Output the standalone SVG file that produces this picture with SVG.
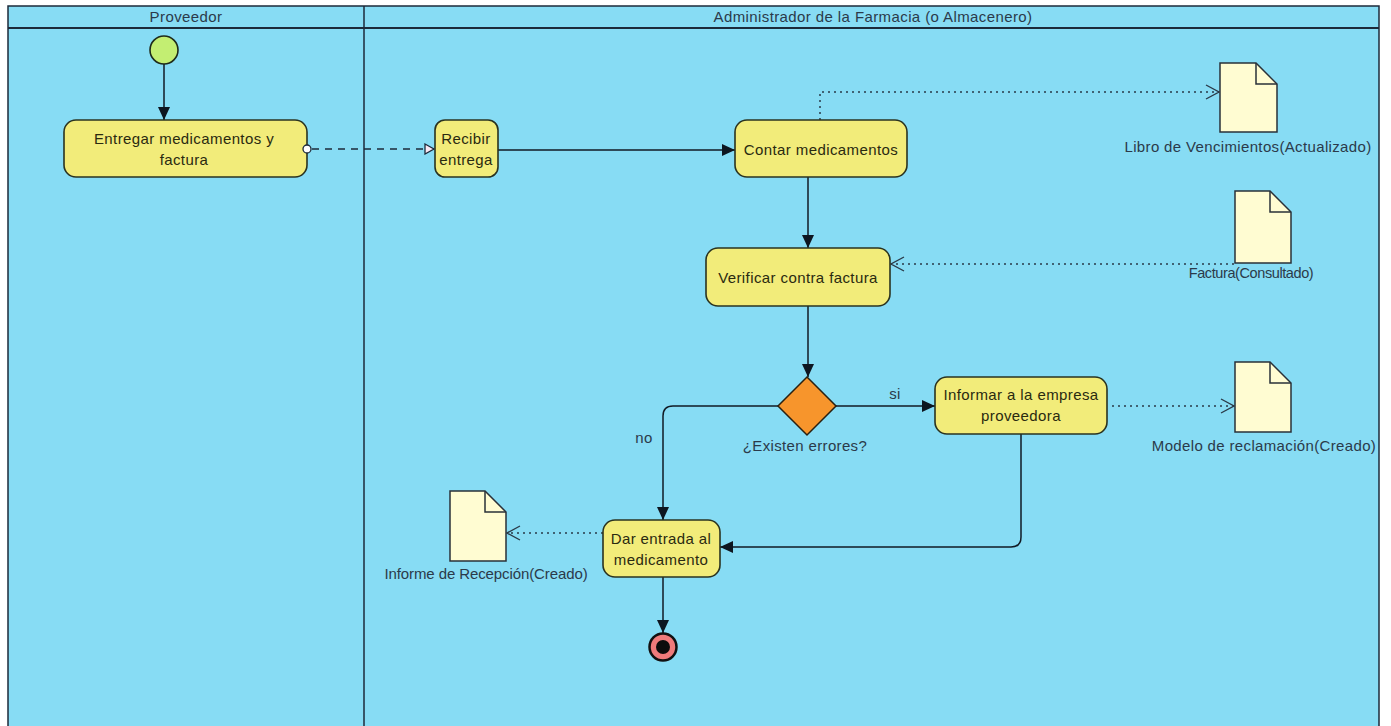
<svg xmlns="http://www.w3.org/2000/svg" width="1391" height="726" viewBox="0 0 1391 726">
  <style>
    .lane { fill: #87dcf4; stroke: #1c2a3a; stroke-width: 1.5; }
    .hdr { font-family: "Liberation Sans", Arial, sans-serif; font-size: 15px; letter-spacing: 0.4px; fill: #2b3a4a; text-anchor: middle; }
    .act { fill: #f2ec7a; stroke: #2a3320; stroke-width: 1.6; }
    .lbl { font-family: "Liberation Sans", Arial, sans-serif; font-size: 15px; letter-spacing: 0.4px; fill: #2a2a10; text-anchor: middle; }
    .doc { fill: #fffcd2; stroke: #2a3038; stroke-width: 1.5; }
    .dlbl { font-family: "Liberation Sans", Arial, sans-serif; font-size: 15px; letter-spacing: 0.35px; fill: #2b3a4a; text-anchor: middle; }
    .flow { fill: none; stroke: #111a24; stroke-width: 1.5; }
    .obj { fill: none; stroke: #2a3a48; stroke-width: 1.5; stroke-dasharray: 2 4; }
    .msg { fill: none; stroke: #1c2a3a; stroke-width: 1.5; stroke-dasharray: 7 6; }
  </style>
  <defs>
    <marker id="solid" markerWidth="14" markerHeight="12" refX="13" refY="6" orient="auto" markerUnits="userSpaceOnUse">
      <path d="M0,0 L13,6 L0,12 Z" fill="#0d1620"/>
    </marker>
    <marker id="open" markerWidth="16" markerHeight="16" refX="14" refY="8" orient="auto" markerUnits="userSpaceOnUse">
      <path d="M1,1 L14,8 L1,15" fill="none" stroke="#2a3a48" stroke-width="1.4"/>
    </marker>
    <marker id="hollow" markerWidth="12" markerHeight="12" refX="10" refY="6" orient="auto" markerUnits="userSpaceOnUse">
      <path d="M1,1 L10,6 L1,11 Z" fill="#fbe8f4" stroke="#1c2a3a" stroke-width="1.3"/>
    </marker>
  </defs>

  <!-- swimlane pool -->
  <g id="pool">
    <rect class="lane" x="8" y="6" width="1371" height="730"/>
    <line x1="8" y1="28" x2="1379" y2="28" stroke="#1c2a3a" stroke-width="1.8"/>
    <line x1="364" y1="6" x2="364" y2="736" stroke="#1c2a3a" stroke-width="1.5"/>
    <text class="hdr" x="186" y="22">Proveedor</text>
    <text class="hdr" x="873" y="22">Administrador de la Farmacia (o Almacenero)</text>
  </g>

  <!-- connectors -->
  <g id="connectors">
    <line class="flow" x1="164" y1="64" x2="164" y2="120" marker-end="url(#solid)"/>
    <line class="msg" x1="312" y1="149" x2="434" y2="149" marker-end="url(#hollow)"/>
    <line class="flow" x1="498" y1="150" x2="735" y2="150" marker-end="url(#solid)"/>
    <polyline class="obj" points="820,120 820,92 1219,92" marker-end="url(#open)"/>
    <line class="flow" x1="808" y1="177" x2="808" y2="248" marker-end="url(#solid)"/>
    <line class="obj" x1="1234" y1="264" x2="891" y2="264" marker-end="url(#open)"/>
    <line class="flow" x1="808" y1="306" x2="808" y2="377" marker-end="url(#solid)"/>
    <line class="flow" x1="836" y1="406" x2="935" y2="406" marker-end="url(#solid)"/>
    <line class="obj" x1="1112" y1="406" x2="1234" y2="406" marker-end="url(#open)"/>
    <path class="flow" d="M778,406 L673,406 Q663,406 663,416 L663,520" marker-end="url(#solid)"/>
    <path class="flow" d="M1021,434 L1021,537 Q1021,547 1011,547 L720,547" marker-end="url(#solid)"/>
    <line class="obj" x1="603" y1="533" x2="507" y2="533" marker-end="url(#open)"/>
    <line class="flow" x1="663" y1="577" x2="663" y2="633" marker-end="url(#solid)"/>
    <text class="dlbl" x="895" y="399">si</text>
    <text class="dlbl" x="644" y="443">no</text>
  </g>

  <!-- initial node -->
  <g id="start">
    <circle cx="164" cy="50" r="14" fill="#c3ee72" stroke="#1e2a1a" stroke-width="1.6"/>
  </g>

  <g id="entregar">
    <rect class="act" x="64" y="120" width="243" height="57" rx="12"/>
    <text class="lbl" x="184" y="144">Entregar medicamentos y</text>
    <text class="lbl" x="184" y="165">factura</text>
    <circle cx="307" cy="149" r="4" fill="#ffffff" stroke="#1c2a3a" stroke-width="1.3"/>
  </g>

  <g id="recibir">
    <rect class="act" x="435" y="120" width="63" height="57" rx="10"/>
    <text class="lbl" x="466" y="144">Recibir</text>
    <text class="lbl" x="466" y="165">entrega</text>
  </g>

  <g id="contar">
    <rect class="act" x="735" y="120" width="172" height="57" rx="12"/>
    <text class="lbl" x="821" y="155">Contar medicamentos</text>
  </g>

  <g id="libro">
    <path class="doc" d="M1220,63 L1256,63 L1277,84 L1277,132 L1220,132 Z"/>
    <path d="M1256,63 L1256,84 L1277,84" fill="none" stroke="#2a3038" stroke-width="1.5"/>
    <text class="dlbl" x="1248" y="152">Libro de Vencimientos(Actualizado)</text>
  </g>

  <g id="verificar">
    <rect class="act" x="706" y="248" width="184" height="58" rx="12"/>
    <text class="lbl" x="798" y="283">Verificar contra factura</text>
  </g>

  <g id="factura">
    <path class="doc" d="M1235,191 L1270,191 L1291,212 L1291,263 L1235,263 Z"/>
    <path d="M1270,191 L1270,212 L1291,212" fill="none" stroke="#2a3038" stroke-width="1.5"/>
    <text class="dlbl" x="1251" y="278" style="font-size:14.5px;letter-spacing:-0.4px">Factura(Consultado)</text>
  </g>

  <g id="decision">
    <polygon points="807,377 836,406 807,435 778,406" fill="#f7952c" stroke="#2a2010" stroke-width="1.5"/>
    <text class="dlbl" x="805" y="451">¿Existen errores?</text>
  </g>

  <g id="informar">
    <rect class="act" x="935" y="377" width="172" height="57" rx="12"/>
    <text class="lbl" x="1021" y="400">Informar a la empresa</text>
    <text class="lbl" x="1021" y="421">proveedora</text>
  </g>

  <g id="modelo">
    <path class="doc" d="M1235,362 L1270,362 L1291,383 L1291,432 L1235,432 Z"/>
    <path d="M1270,362 L1270,383 L1291,383" fill="none" stroke="#2a3038" stroke-width="1.5"/>
    <text class="dlbl" x="1264" y="451">Modelo de reclamación(Creado)</text>
  </g>

  <g id="dar">
    <rect class="act" x="603" y="520" width="117" height="57" rx="12"/>
    <text class="lbl" x="661" y="544">Dar entrada al</text>
    <text class="lbl" x="661" y="565">medicamento</text>
  </g>

  <g id="informe">
    <path class="doc" d="M450,491 L485,491 L506,512 L506,561 L450,561 Z"/>
    <path d="M485,491 L485,512 L506,512" fill="none" stroke="#2a3038" stroke-width="1.5"/>
    <text class="dlbl" x="486" y="579" style="letter-spacing:-0.1px">Informe de Recepción(Creado)</text>
  </g>

  <!-- final node -->
  <g id="end">
    <circle cx="663" cy="647" r="13.5" fill="#ef7b7b" stroke="#111111" stroke-width="2.5"/>
    <circle cx="663" cy="647" r="7" fill="#0d0d0d"/>
  </g>
</svg>
